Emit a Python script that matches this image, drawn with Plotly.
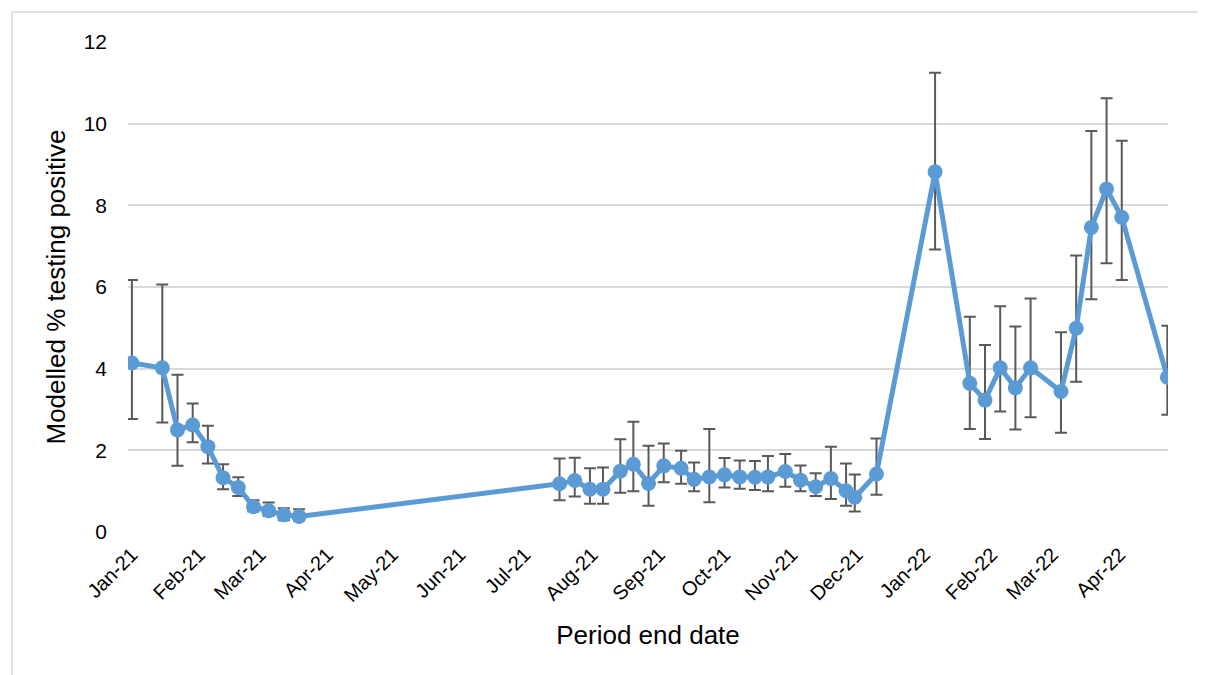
import plotly.graph_objects as go
from datetime import datetime, timedelta

# Period end dates
dates = [
    "2021-01-01", "2021-01-15", "2021-01-22", "2021-01-29", "2021-02-05", "2021-02-12",
    "2021-02-19", "2021-02-26", "2021-03-05", "2021-03-12", "2021-03-19",
    "2021-07-17", "2021-07-24", "2021-07-31", "2021-08-06", "2021-08-14", "2021-08-20",
    "2021-08-27", "2021-09-03", "2021-09-11", "2021-09-17", "2021-09-24", "2021-10-01",
    "2021-10-08", "2021-10-15", "2021-10-21", "2021-10-29", "2021-11-05", "2021-11-12",
    "2021-11-19", "2021-11-26", "2021-11-30", "2021-12-10",
    "2022-01-06", "2022-01-22", "2022-01-29", "2022-02-05", "2022-02-12", "2022-02-19",
    "2022-03-05", "2022-03-12", "2022-03-19", "2022-03-26", "2022-04-02", "2022-04-23",
]
# Modelled % testing positive
values = [
    4.14, 4.02, 2.50, 2.62, 2.09, 1.33, 1.09, 0.62, 0.52, 0.42, 0.38,
    1.18, 1.26, 1.05, 1.05, 1.49, 1.66, 1.19, 1.62, 1.56, 1.29, 1.35, 1.40,
    1.35, 1.34, 1.35, 1.48, 1.27, 1.11, 1.31, 1.01, 0.85, 1.42,
    8.82, 3.64, 3.23, 4.02, 3.53, 4.02, 3.44, 4.99, 7.46, 8.40, 7.71, 3.79,
]
# 95% credible interval lower bounds
lower = [
    2.77, 2.68, 1.62, 2.20, 1.68, 1.05, 0.88, 0.50, 0.40, 0.29, 0.28,
    0.78, 0.87, 0.69, 0.69, 0.96, 1.00, 0.64, 1.22, 1.18, 1.00, 0.73, 1.09,
    1.06, 1.03, 1.00, 1.11, 1.00, 0.88, 0.81, 0.64, 0.50, 0.91,
    6.92, 2.52, 2.28, 2.95, 2.51, 2.81, 2.43, 3.68, 5.70, 6.58, 6.17, 2.87,
]
# 95% credible interval upper bounds
upper = [
    6.17, 6.06, 3.85, 3.15, 2.60, 1.66, 1.34, 0.78, 0.72, 0.58, 0.56,
    1.80, 1.82, 1.56, 1.58, 2.27, 2.70, 2.11, 2.17, 1.99, 1.70, 2.52, 1.81,
    1.75, 1.74, 1.86, 1.91, 1.63, 1.44, 2.09, 1.68, 1.41, 2.29,
    11.25, 5.27, 4.58, 5.53, 5.03, 5.72, 4.89, 6.77, 9.82, 10.62, 9.58, 5.05,
]

tick_vals = ["2021-01-01", "2021-02-01", "2021-03-01", "2021-04-01", "2021-05-01",
             "2021-06-01", "2021-07-01", "2021-08-01", "2021-09-01", "2021-10-01",
             "2021-11-01", "2021-12-01", "2022-01-01", "2022-02-01", "2022-03-01",
             "2022-04-01"]
tick_text = ["Jan-21", "Feb-21", "Mar-21", "Apr-21", "May-21", "Jun-21", "Jul-21",
             "Aug-21", "Sep-21", "Oct-21", "Nov-21", "Dec-21", "Jan-22", "Feb-22",
             "Mar-22", "Apr-22"]

err_plus = [u - v for u, v in zip(upper, values)]
err_minus = [v - l for v, l in zip(values, lower)]

fig = go.Figure()
fig.add_trace(go.Scatter(
    x=dates, y=values, mode="lines+markers",
    line=dict(color="#5B9BD5", width=5),
    marker=dict(color="#5B9BD5", size=15),
    error_y=dict(type="data", symmetric=False, array=err_plus, arrayminus=err_minus,
                 color="#595959", thickness=2, width=6),
    showlegend=False,
))

x0 = datetime.strptime(dates[0], "%Y-%m-%d") - timedelta(days=1.8)
x1 = datetime.strptime(dates[-1], "%Y-%m-%d") + timedelta(days=0.3)

fig.update_layout(
    width=1198, height=667,
    margin=dict(l=120, r=38, t=34, b=143),
    paper_bgcolor="white", plot_bgcolor="white",
    font=dict(family="Liberation Sans, Arial, sans-serif", color="#000000"),
    xaxis=dict(
        type="date", range=[x0, x1],
        tickmode="array", tickvals=tick_vals, ticktext=tick_text,
        tickangle=-45, tickfont=dict(size=20),
        showgrid=False, showline=False, zeroline=False,
        ticks="", ticklabelstandoff=6,
        title=dict(text="Period end date", font=dict(size=26), standoff=20),
    ),
    yaxis=dict(
        range=[0, 12], tickmode="linear", tick0=0, dtick=2,
        tickfont=dict(size=21),
        showgrid=True, gridcolor="#D9D9D9", gridwidth=1.5,
        zeroline=False, showline=False, ticks="", ticklabelstandoff=20,
        title=dict(text="Modelled % testing positive", font=dict(size=26), standoff=10),
    ),
    shapes=[dict(type="rect", xref="paper", yref="paper",
                 x0=-0.1115, x1=1.2, y0=-0.5, y1=1.0612,
                 line=dict(color="#D9D9D9", width=1.5), layer="below")],
)

fig.write_html("out.html")
